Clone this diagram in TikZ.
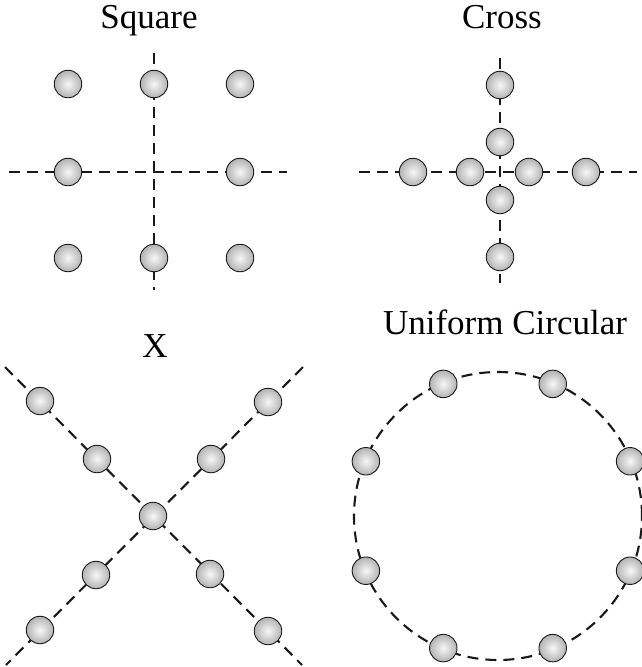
\documentclass[tikz,border=0pt]{standalone}
\usepackage{fontspec}
\setmainfont{Liberation Serif}
\usetikzlibrary{calc}
\begin{document}
\begin{tikzpicture}[x=1pt,y=-1pt,
  dot/.style={circle,minimum size=27.5pt,inner sep=0pt,draw=black!90,line width=0.9pt,
    inner color=gray!6,outer color=gray!60},
  dline/.style={line width=2.1pt,dash pattern=on 11pt off 7pt,black!90},
  ttl/.style={anchor=base,inner sep=0pt,font=\fontsize{35}{40}\selectfont}]
\path[use as bounding box] (0,0) rectangle (642,667);

% titles
\node[ttl] (tsq) at (149,28) {Square};
\node[ttl] (tcr) at (502,28) {Cross};
\node[ttl] (tx) at (155,357) {X};
\node[ttl] (tuc) at (505,334) {Uniform Circular};

% ---------- Square ----------
\coordinate (sqh1) at (9,172);
\coordinate (sqh2) at (287,172);
\coordinate (sqv1) at (154,53);
\coordinate (sqv2) at (154,290);
\draw[dline] (sqh1) -- (sqh2);
\draw[dline] (sqv1) -- (sqv2);
\node[dot] (sq1) at (68,84) {};
\node[dot] (sq2) at (154,84) {};
\node[dot] (sq3) at (240,84) {};
\node[dot] (sq4) at (68,172) {};
\node[dot] (sq5) at (240,172) {};
\node[dot] (sq6) at (68,258) {};
\node[dot] (sq7) at (154,258) {};
\node[dot] (sq8) at (240,258) {};

% ---------- Cross ----------
\coordinate (crh1) at (359,172);
\coordinate (crh2) at (637,172);
\coordinate (crv1) at (500,58);
\coordinate (crv2) at (500,283);
\draw[dline] (crh1) -- (crh2);
\draw[dline] (crv1) -- (crv2);
\node[dot] (cr1) at (500,85) {};
\node[dot] (cr2) at (500,142) {};
\node[dot] (cr3) at (500,200) {};
\node[dot] (cr4) at (500,257) {};
\node[dot] (cr5) at (413,172) {};
\node[dot] (cr6) at (470,172) {};
\node[dot] (cr7) at (529,172) {};
\node[dot] (cr8) at (586,172) {};

% ---------- X ----------
\coordinate (xa1) at (5,367);
\coordinate (xa2) at (302,665);
\coordinate (xb1) at (303,367);
\coordinate (xb2) at (6,665);
\draw[dline] (xa1) -- (xa2);
\draw[dline] (xb1) -- (xb2);
\node[dot] (x0) at (153,516) {};
\node[dot] (x1) at (40,401) {};
\node[dot] (x2) at (97,459) {};
\node[dot] (x3) at (210,574) {};
\node[dot] (x4) at (268,631) {};
\node[dot] (x5) at (268,402) {};
\node[dot] (x6) at (211,459) {};
\node[dot] (x7) at (96,575) {};
\node[dot] (x8) at (40,630) {};

% ---------- Uniform Circular ----------
\coordinate (cc) at (498,516);
\draw[dline] (cc) circle (144pt);
\foreach \a [count=\i] in {22.5,67.5,112.5,157.5,202.5,247.5,292.5,337.5}
  \node[dot] (uc\i) at ($(cc)+(\a:143pt)$) {};
\end{tikzpicture}
\end{document}
